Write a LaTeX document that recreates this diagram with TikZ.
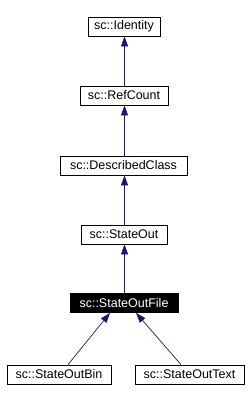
\documentclass[tikz,border=0pt]{standalone}
\usepackage{fontspec}
\setmainfont{Liberation Sans}
\usetikzlibrary{arrows.meta}
\definecolor{edgeblue}{RGB}{25,25,112}
\begin{document}
\begin{tikzpicture}[x=1pt,y=-1pt,
  cls/.style={draw=black, line width=0.8pt, fill=white, inner sep=0pt,
    minimum height=19pt, font=\fontsize{12.5}{14}\selectfont},
  cur/.style={cls, fill=black, text=white},
  inh/.style={draw=edgeblue, line width=0.7pt, -{Triangle[length=10pt,width=7pt]}, fill=none}
]
\useasboundingbox (0,0) rectangle (249,401);
\node[cls, minimum width=72pt]  (id)   at (124,26.5)  {sc::Identity};
\node[cls, minimum width=88pt]  (rc)   at (124,95.5)  {sc::RefCount};
\node[cls, minimum width=127pt] (dc)   at (123.5,165.5) {sc::DescribedClass};
\node[cls, minimum width=86pt]  (so)   at (124,234.5) {sc::StateOut};
\node[cur, minimum width=108pt] (sof)  at (124,303)   {sc::StateOutFile};
\node[cls, minimum width=104pt] (bin)  at (59,374.5)  {sc::StateOutBin};
\node[cls, minimum width=109pt] (txt)  at (189.5,374.5) {sc::StateOutText};
\draw[inh] (rc.north -| 124.5,0) -- (id.south -| 124.5,0);
\draw[inh] (dc.north -| 124.5,0) -- (rc.south -| 124.5,0);
\draw[inh] (so.north -| 124.5,0) -- (dc.south -| 124.5,0);
\draw[inh] (sof.north -| 124.5,0) -- (so.south -| 124.5,0);
\draw[inh] ([xshift=9pt]bin.north) -- ([xshift=-14pt]sof.south);
\draw[inh] ([xshift=-8.5pt]txt.north) -- ([xshift=12pt]sof.south);
\end{tikzpicture}
\end{document}
